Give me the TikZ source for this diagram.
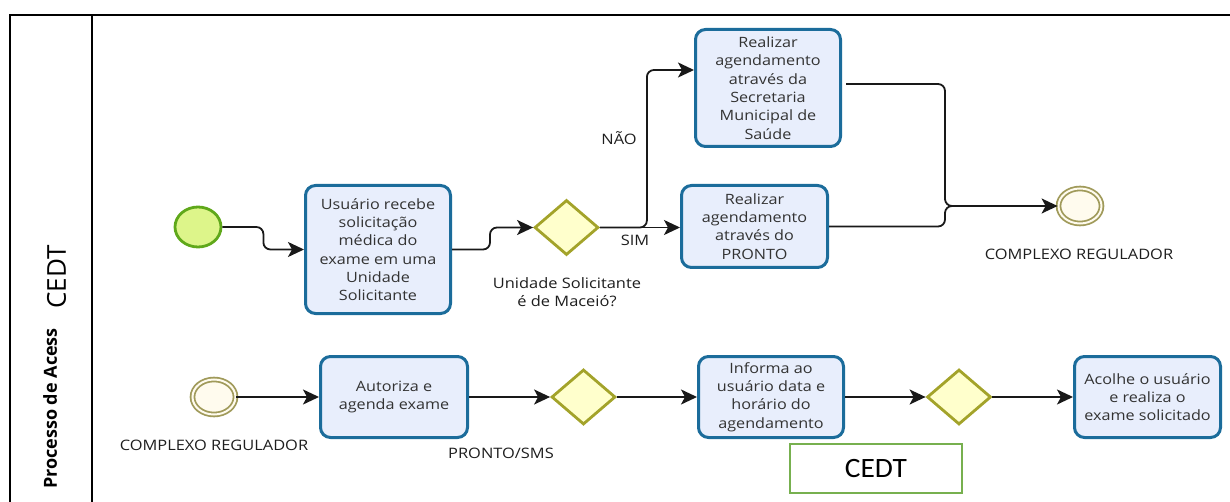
\documentclass[tikz,border=0pt]{standalone}
\usepackage{fontspec}
\setmainfont{Open Sans}[FakeStretch=1.14]
\newfontfamily\plainfont{Open Sans}
\newfontfamily\calfont{Carlito}[FakeStretch=1.05]
\usetikzlibrary{arrows.meta,shapes.geometric}
\definecolor{taskblue}{HTML}{1B6C9B}
\definecolor{taskfill}{HTML}{E8EEFC}
\definecolor{gwborder}{HTML}{A3A32A}
\definecolor{gwfill}{HTML}{FFFFCC}
\definecolor{stborder}{HTML}{5FA81A}
\definecolor{stfill}{HTML}{DDF58A}
\definecolor{endborder}{HTML}{A09A5A}
\definecolor{endfill}{HTML}{FFFBEE}
\definecolor{txtgray}{HTML}{333333}
\definecolor{lblcol}{HTML}{1E1E1E}
\definecolor{cedtgreen}{HTML}{77B04F}
\begin{document}
\begin{tikzpicture}[x=1pt,y=-1pt,
  task/.style={rectangle, rounded corners=10pt, draw=taskblue, line width=3pt, fill=taskfill,
    inner sep=0pt, text=txtgray, align=center, font=\fontsize{14.2}{18.3}\selectfont},
  gateway/.style={diamond, draw=gwborder, line width=2.8pt, fill=gwfill, inner sep=0pt,
    minimum width=64pt, minimum height=55pt},
  startev/.style={ellipse, draw=stborder, line width=2.8pt, fill=stfill, inner sep=0pt,
    minimum width=46pt, minimum height=40pt},
  dblev/.style={ellipse, draw=endborder, line width=1.8pt, double=endfill, double distance=2pt,
    fill=endfill, inner sep=0pt, minimum width=43pt, minimum height=35pt},
  flow/.style={draw=black!90, line width=1.8pt, rounded corners=7pt,
    -{Stealth[length=16pt,width=15pt,inset=4pt]}},
  flowline/.style={draw=black!90, line width=1.8pt, rounded corners=7pt},
  lbl/.style={text=lblcol, inner sep=0pt, font=\fontsize{14.4}{18.3}\selectfont, align=center},
  frame/.style={draw=black, line width=1.8pt}
]
\useasboundingbox (0,0) rectangle (1230,502);
% frame
\draw[frame] (10,502) -- (10,15) -- (1230,15);
\draw[frame] (92,15) -- (92,502);
\node[rotate=90, text=black, font=\plainfont\bfseries\fontsize{18}{20}\selectfont] (pool) at (50,408.5) {Processo de Acess};
\node[rotate=90, text=black, font=\plainfont\fontsize{26}{28}\selectfont] (lane) at (56.5,277) {CEDT};

% top row
\node[startev] (s1) at (198,227) {};
\node[task, minimum width=145pt, minimum height=128pt] (t1) at (378,249.5)
  {Usuário recebe\\solicitação\\médica do\\exame em uma\\Unidade\\Solicitante};
\node[gateway] (g1) at (566.5,227.5) {};
\node[lbl] (q1) at (567,292) {Unidade Solicitante\\é de Maceió?};
\node[task, minimum width=145pt, minimum height=117pt] (t2) at (768,88)
  {Realizar\\agendamento\\através da\\Secretaria\\Municipal de\\Saúde};
\node[task, minimum width=146pt, minimum height=82pt] (t3) at (754.5,226.5)
  {Realizar\\agendamento\\através do\\PRONTO};
\node[dblev] (e1) at (1080,206) {};
\node[lbl] (l1) at (1079,254) {COMPLEXO REGULADOR};
\node[lbl] (nao) at (619,138) {NÃO};
\node[lbl] (sim) at (635,240) {SIM};
\coordinate (m) at (945,206);

\draw[flow] (s1.east) -- ++(41,0) |- (t1.west);
\draw[flow] (t1.east) -- ++(38,0) |- (g1.west);
\draw[flow] (g1.east) -- (g1.east -| t3.west);
\draw[flow] (g1.east) -- ++(47,0) |- ([yshift=18pt]t2.west);
\draw[flow] ([xshift=4pt,yshift=4pt]t2.east) -| (m) -- (e1.west);
\draw[flowline] (t3.east) -| (m) -- ++(12,0);

% bottom row
\node[dblev] (s2) at (214,397) {};
\node[lbl] (l2) at (214,445) {COMPLEXO REGULADOR};
\node[task, minimum width=147pt, minimum height=81pt] (t4) at (394,397) {Autoriza e\\agenda exame};
\node[gateway] (g2) at (583.5,397) {};
\node[lbl] (ps) at (501,453) {PRONTO/SMS};
\node[task, minimum width=145pt, minimum height=81pt] (t5) at (771,397)
  {Informa ao\\usuário data e\\horário do\\agendamento};
\node[gateway] (g3) at (959,397) {};
\node[task, minimum width=146pt, minimum height=81pt] (t6) at (1147.5,397)
  {Acolhe o usuário\\e realiza o\\exame solicitado};
\node[draw=cedtgreen, line width=2.8pt, minimum width=172pt, minimum height=49pt, inner sep=0pt,
  text=black, font=\calfont\fontsize{28}{30}\selectfont] (cedt) at (876,468.5) {CEDT};

\draw[flow] (s2.east) -- (t4.west);
\draw[flow] (t4.east) -- (g2.west);
\draw[flow] (g2.east) -- (t5.west);
\draw[flow] (t5.east) -- (g3.west);
\draw[flow] (g3.east) -- (t6.west);
\end{tikzpicture}
\end{document}
